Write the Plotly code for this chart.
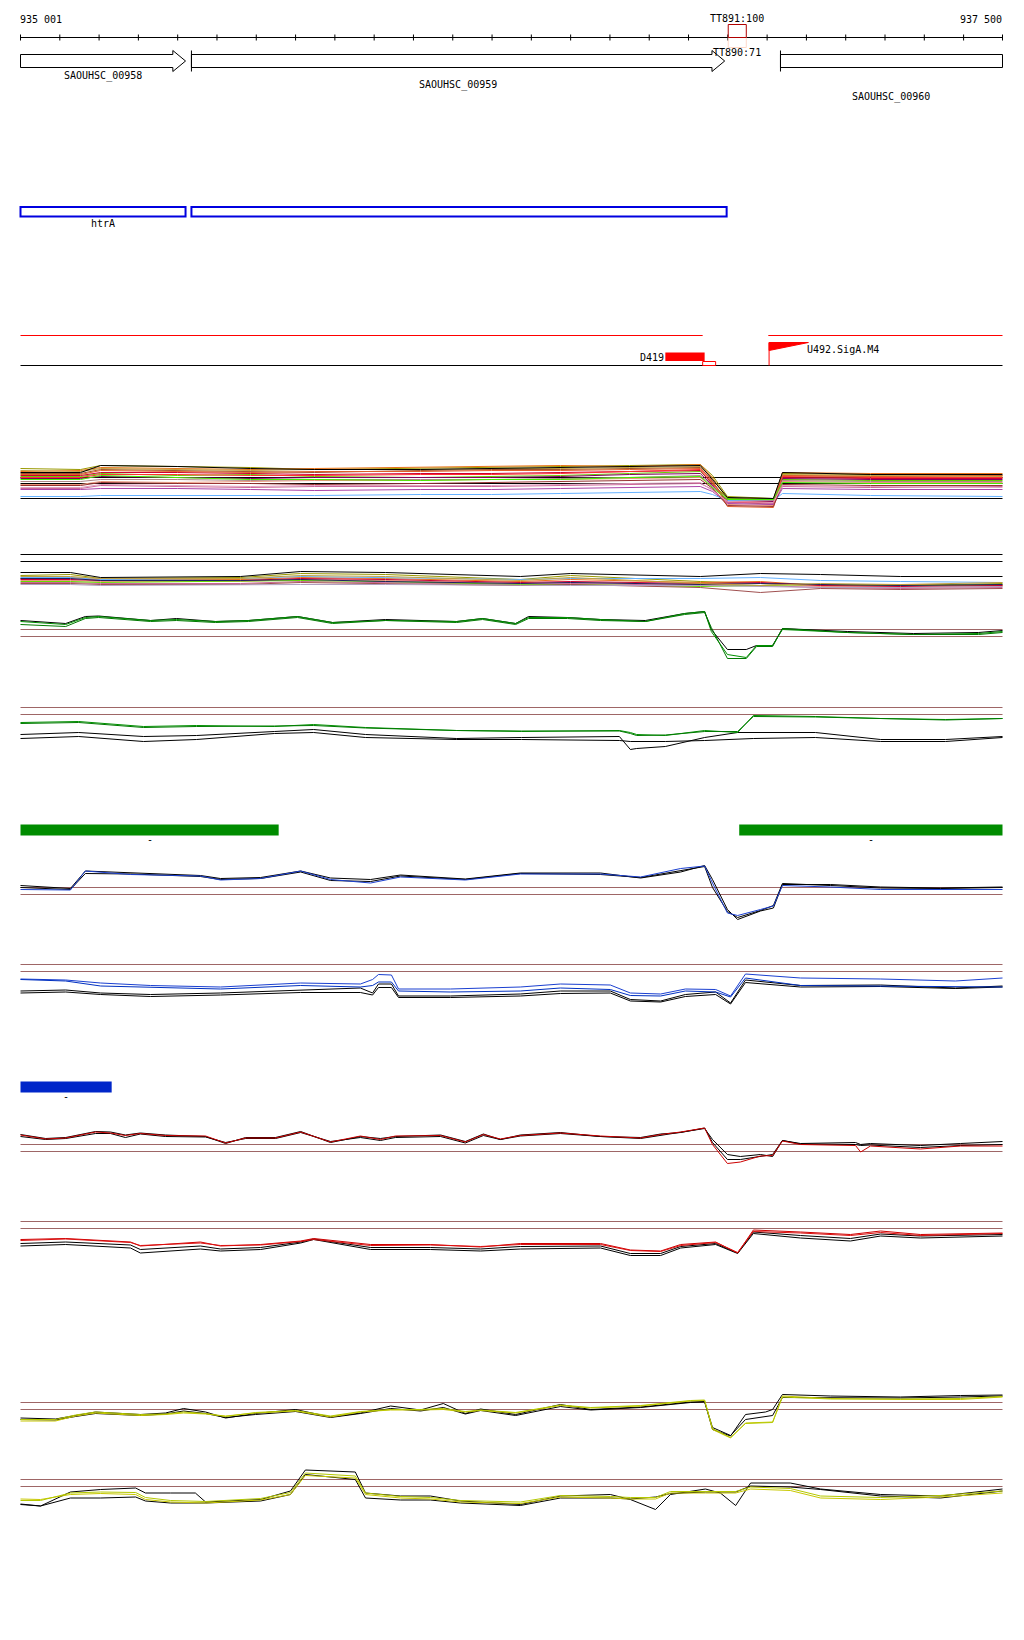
import plotly.graph_objects as go

# page is drawn inside the default 8px body margin, so the figure is sized to fit
OFF = 8
W, H = 1008, 1624
VIEW_START, VIEW_END = 935001, 937500
PX_LEFT, PX_RIGHT = 20, 1002          # page pixels of the view start / end
FONT = "DejaVu Sans Mono"
BROWN = "#9e6666"

# ---------------- annotation data (bp) ----------------
ruler_ticks = list(range(935001, 937500, 100)) + [937500]
ruler_labels = ["935 001", "937 500"]

gene_names = ["SAOUHSC_00958", "SAOUHSC_00959", "SAOUHSC_00960"]
gene_starts = [935001, 935436, 936935]
gene_ends = [935421, 936793, 937500]

operon_names = ["htrA", ""]
operon_starts = [935001, 935436]
operon_ends = [935421, 936798]

term_names = ["TT891:100", "TT890:71"]
term_start, term_end = 936802, 936848

prom_seg_starts = [935001, 936904]
prom_seg_ends = [936737, 937500]
d419_name, d419_start, d419_end = "D419", 936642, 936742
d419_box_start, d419_box_end = 936737, 936770
u492_name, u492_pos, u492_flag_end = "U492.SigA.M4", 936906, 937006

green_bar_starts = [935001, 936830]
green_bar_ends = [935658, 937500]
blue_bar_starts = [935001]
blue_bar_ends = [935233]

# ---------------- track A: many profiles ----------------
a_pos = [935001, 935154, 935205, 935400, 935586, 935749, 936019, 936200, 936375, 936551, 936731,
         936762, 936800, 936917, 936940, 937164, 937500]
a_olive = [51, 50, 54, 53, 52, 50, 51, 52, 53, 54, 55, 44, 23, 21, 46, 45, 44]
a_orange = [48, 49, 52, 51, 50, 51, 52, 53, 54, 53, 55, 42, 20, 18, 47, 46, 46]
a_sienna = [46, 46, 50, 49, 48, 47, 49, 50, 50, 51, 52, 38, 18, 15, 44, 43, 42]
a_green = [43, 43, 46, 44, 45, 43, 42, 43, 44, 46, 48, 36, 21, 20, 40, 39, 39]
a_crimson = [44, 44, 47, 47, 46, 45, 46, 46, 47, 48, 49, 35, 17, 17, 42, 41, 41]
a_plum = [41, 41, 43, 42, 41, 42, 42, 42, 43, 45, 46, 34, 19, 18, 41, 40, 40]
a_salmon = [35, 35, 38, 37, 38, 39, 39, 40, 40, 41, 42, 32, 15, 14, 38, 37, 37]
a_mauve = [31, 31, 34, 33, 32, 33, 33, 33, 34, 35, 36, 30, 17, 16, 33, 32, 33]
a_purple = [30, 30, 31, 31, 30, 29, 30, 30, 31, 32, 33, 28, 16, 15, 31, 30, 30]
a_skyblue = [23, 23, 24, 24, 24, 24, 25, 25, 26, 27, 28, 25, 19, 19, 26, 24, 23]
a_khaki = [49, 48, 51, 50, 49, 50, 50, 51, 51, 52, 53, 41, 22, 20, 45, 44, 43]
a_red = [42, 42, 45, 45, 44, 44, 45, 45, 46, 48, 50, 37, 18, 17, 43, 42, 42]
a_rosy = [38, 38, 40, 40, 39, 40, 40, 40, 41, 42, 44, 33, 20, 19, 39, 38, 38]
a_coral = [45, 45, 49, 48, 47, 48, 48, 49, 49, 50, 51, 39, 13, 12, 44, 43, 44]
a_lime = [40, 40, 44, 42, 40, 40, 39, 40, 40, 42, 43, 32, 20, 20, 37, 36, 36]
a_darkred = [34, 34, 37, 36, 36, 35, 36, 37, 38, 39, 40, 31, 14, 13, 35, 34, 34]
a_pink = [32, 32, 35, 34, 33, 34, 34, 34, 35, 36, 37, 29, 18, 17, 34, 33, 32]
a_black = [47, 47, 54, 53, 51, 50, 50, 51, 52, 53, 54, 40, 22, 21, 47, 45, 45]
a_thresholds = [42, 36, 21]

# ---------------- track B: many profiles ----------------
b_pos = [935001, 935128, 935205, 935561, 935714, 935930, 936273, 936401, 936731, 936884, 937037, 937240, 937500]
b_olive = [24, 25, 21, 22, 26, 25, 20, 24, 18, 16, 15, 14, 16]
b_orange = [21, 22, 20, 20, 22, 21, 18, 20, 17, 18, 14, 15, 14]
b_salmon = [19, 19, 18, 18, 20, 19, 16, 17, 15, 16, 13, 12, 13]
b_mauve = [17, 17, 16, 16, 18, 17, 15, 16, 14, 14, 12, 11, 12]
b_skyblue = [22, 22, 20, 21, 23, 22, 20, 21, 21, 22, 19, 18, 17]
b_lime = [18, 18, 17, 18, 19, 18, 15, 15, 13, 14, 15, 14, 15]
b_crimson = [20, 20, 19, 19, 21, 20, 17, 18, 16, 17, 14, 13, 14]
b_brown = [16, 16, 15, 15, 17, 16, 14, 15, 12, 7, 11, 10, 11]
b_navy = [21, 21, 19, 19, 20, 18, 16, 17, 15, 16, 15, 14, 15]
b_khaki = [23, 23, 21, 21, 24, 23, 19, 22, 16, 14, 16, 15, 17]
b_lilac = [15, 15, 14, 15, 15, 15, 14, 14, 14, 13, 12, 12, 13]
b_black = [27, 27, 22, 23, 28, 27, 23, 26, 23, 26, 25, 23, 23]
b_thresholds = [45, 38]

# ---------------- track C: green / black ----------------
c_pos = [935001, 935116, 935166, 935200, 935332, 935398, 935497, 935581, 935706, 935795, 935930, 936111,
         936177, 936261, 936294, 936393, 936477, 936591, 936691, 936742, 936759, 936800, 936848, 936874,
         936915, 936940, 937105, 937273, 937439, 937500]
c_green1 = [48, 45, 52, 53, 49, 50, 48, 49, 53, 47, 49, 48, 51, 46, 52, 52, 50, 48, 56, 58, 38, 15, 12, 24, 24, 40, 37, 35, 36, 38]
c_green2 = [45, 43, 51, 52, 48, 49, 47, 48, 52, 46, 49, 47, 50, 45, 51, 51, 49, 48, 55, 57, 42, 11, 11, 23, 23, 41, 37, 35, 35, 37]
c_black = [49, 46, 53, 53.5, 49, 51, 48, 49, 53, 47, 50, 48, 51, 46, 53, 52, 50, 49, 56, 58, 40, 20, 20, 24, 24, 41, 38, 36, 37, 39]
c_thresholds = [40, 33]

# ---------------- track D: green / black ----------------
d_pos = [935001, 935116, 935149, 935314, 935449, 935647, 935747, 935879, 936111, 936276, 936525, 936553,
         936569, 936642, 936742, 936826, 936866, 937024, 937190, 937355, 937500]
d_green1 = [37, 37.5, 38, 33, 34, 33, 35, 32, 29, 28, 29, 27, 25, 24, 29, 27, 44, 43, 41, 40, 41]
d_green2 = [36, 37, 37, 32, 33, 33.5, 34, 31.5, 29, 28.5, 28.5, 26, 24, 24.5, 28, 28, 43, 42.5, 41, 39.5, 41]
d_black1 = [25, 27, 27, 23, 24, 28, 30, 25, 21, 22, 23, 10, 11, 13, 22, 27, 27, 27, 20, 20, 23]
d_black2 = [21, 23, 23, 18, 20, 26, 27, 22, 20, 20, 19, 18, 18, 18, 19, 20, 21, 22, 18, 18, 22]
d_thresholds = [52, 45]

# ---------------- track F: blue / black ----------------
f_pos = [935001, 935128, 935166, 935281, 935459, 935510, 935612, 935714, 935790, 935892, 935968, 936133,
         936273, 936477, 936579, 936681, 936742, 936762, 936800, 936826, 936884, 936917, 936940, 937062,
         937190, 937342, 937500]
f_blue = [40, 39.5, 58.5, 55, 53.5, 49.5, 51, 58.5, 50, 46.5, 52.5, 49.5, 55.5, 55.5, 52.5, 61, 63.5, 46.5, 16.5, 14, 20, 23.5, 44, 42.5, 40, 40, 40]
f_black1 = [44, 41, 58.5, 56.5, 54, 51, 52, 58.5, 51.5, 50, 54.5, 50.5, 56.5, 56.5, 51.5, 57.5, 64, 50, 20, 10, 18.5, 21.5, 45, 45, 42.5, 41.5, 42.5]
f_black2 = [42, 40, 56, 55.5, 53, 50, 51, 57.5, 49, 48, 53.5, 50, 56, 55, 52, 58.5, 63, 42, 18, 12, 19, 24, 46, 44, 41.5, 41, 42]
f_thresholds = [42, 35]

# ---------------- track G: blue / black ----------------
g_pos = [935001, 935116, 935205, 935332, 935510, 935714, 935866, 935897, 935912, 935945, 935963, 936095,
         936273, 936375, 936502, 936553, 936630, 936693, 936770, 936808, 936846, 936986, 937190, 937380, 937500]
g_blue1 = [30.5, 29.5, 26.5, 24, 22.5, 26.5, 25.5, 30, 35, 34.5, 20.5, 20.5, 22.5, 25.5, 24.5, 16.5, 15.5, 20.5, 20, 13.5, 35.5, 31.5, 30.5, 28.5, 31.5]
g_blue2 = [30, 28.5, 23.5, 22.5, 20.5, 24, 22.5, 24, 27.5, 27.5, 18.5, 17.5, 18.5, 21.5, 20, 14, 13.5, 18.5, 17.5, 12.5, 31.5, 24, 23.5, 22.5, 22.5]
g_black1 = [18.5, 19.5, 16.5, 15, 16.5, 19.5, 21.5, 16.5, 25.5, 25.5, 13.5, 13.5, 15.5, 18.5, 18.5, 10, 8.5, 15, 17.5, 6.5, 29.5, 24, 24.5, 21.5, 23.5]
g_black2 = [16.5, 17.5, 15, 13, 14.5, 17, 17, 14.5, 22, 22, 12, 12, 13.5, 16, 16.5, 8.5, 7.5, 13, 15, 5.5, 27, 22.5, 23, 21, 22.5]
g_thresholds = [45, 38]

# ---------------- track I: red / black ----------------
i_pos = [935001, 935065, 935116, 935192, 935230, 935268, 935306, 935370, 935472, 935523, 935574, 935650,
         935714, 935790, 935866, 935917, 935955, 936070, 936133, 936179, 936222, 936273, 936375, 936477,
         936579, 936630, 936681, 936742, 936762, 936800, 936833, 936884, 936915, 936940, 936986, 937126,
         937139, 937164, 937291, 937393, 937500]
i_red = [39.5, 35.5, 36.5, 42.5, 41.5, 39, 41, 39, 38.5, 31.5, 36.5, 36.5, 42.5, 32.5, 38.5, 35, 38.5, 39, 32.5, 40, 35.5,
         39, 41.5, 38.5, 36.5, 40, 42.5, 46.5, 30, 11, 12.5, 18.5, 19, 33.5, 30, 29, 22.5, 28.5, 25.5, 28.5, 28.5]
i_black1 = [40, 36, 37, 43, 42.5, 39.5, 41.5, 39.5, 38, 31, 37, 37, 43, 32, 38, 36, 38, 39.5, 33, 40.5, 35,
            39.5, 42, 38, 37, 40.5, 42, 46.5, 32, 15, 15, 18, 20, 34, 31, 32, 30, 31, 29, 31, 33]
i_black2 = [38, 35, 36, 41, 41, 37, 40.5, 38, 37.5, 32, 36, 36, 42, 33, 37, 34, 37, 38, 31.5, 39, 35,
            38.5, 41, 38, 36, 39, 42, 46, 35, 20, 18, 20, 18, 34, 30.5, 30, 29, 29.5, 27, 29, 30]
i_thresholds = [30, 23]

# ---------------- track J: red / black ----------------
j_pos = [935001, 935116, 935281, 935306, 935459, 935510, 935612, 935714, 935747, 935892, 936044, 936172,
         936273, 936477, 936553, 936630, 936681, 936770, 936826, 936866, 936986, 937113, 937190, 937291, 937500]
j_red1 = [30, 31, 27.5, 23.5, 27.5, 23.5, 25, 28.5, 31, 25, 25, 22.5, 26, 26, 19.5, 18.5, 25, 27.5, 16.5, 39.5, 37.5, 35, 38.5, 35, 36.5]
j_red2 = [29, 30.5, 27, 24, 26.5, 24, 24.5, 28, 30, 24, 24.5, 23, 25, 25, 19, 18, 24, 27, 17, 38, 36.5, 34, 37, 34, 36]
j_black1 = [23.5, 25, 21.5, 16.5, 20.5, 18.5, 20, 26.5, 30, 20, 20, 18.5, 20.5, 21.5, 14, 14, 21.5, 25, 16, 36, 31.5, 28.5, 33.5, 31.5, 33.5]
j_black2 = [26, 27.5, 24.5, 20, 23.5, 20.5, 22, 27.5, 30.5, 22, 22, 20.5, 23, 23.5, 16, 16, 23, 26, 16.5, 37.5, 34, 31, 35.5, 33.5, 35]
j_thresholds = [48, 41]

# ---------------- track K: yellow / black ----------------
k_pos = [935001, 935090, 935141, 935192, 935306, 935370, 935416, 935472, 935523, 935599, 935701, 935790,
         935866, 935943, 936019, 936077, 936133, 936172, 936261, 936375, 936452, 936579, 936706, 936742,
         936762, 936808, 936846, 936897, 936915, 936940, 937062, 937240, 937393, 937500]
k_yellow1 = [28.5, 28.5, 33.5, 36.5, 34, 35, 36.5, 35.5, 33.5, 36.5, 38.5, 32.5, 37.5, 39.5, 39.5, 40, 37.5, 39, 36.5,
             44, 41.5, 43.5, 48.5, 49, 20, 11.5, 26.5, 27.5, 27.5, 53.5, 51, 50, 50, 52.5]
k_yellow2 = [30, 30, 34.5, 37.5, 35, 35.5, 37.5, 36, 33, 37, 39, 33.5, 38, 40, 40, 41, 38, 39.5, 37,
             44.5, 42, 44, 49, 49.5, 21, 12, 26, 27, 27, 52.5, 50.5, 50.5, 51, 53]
k_black1 = [31.5, 30.5, 34, 37.5, 35, 36.5, 41, 37.5, 31.5, 36, 40, 32.5, 36.5, 43.5, 39.5, 46, 36, 40.5, 35,
            45, 40, 42.5, 47.5, 48, 20, 13.5, 35, 37.5, 40, 55, 53.5, 52.5, 54, 54.5]
k_black2 = [30, 29.5, 33, 36, 34, 35.5, 38.5, 36, 32, 35, 38, 32, 36, 41, 38.5, 42, 35.5, 39, 34,
            43, 39.5, 42, 47, 47.5, 22, 14, 30, 33, 34, 52, 52, 51.5, 52.5, 53.5]
k_thresholds = [47, 40]

# ---------------- track L: yellow / black ----------------
l_pos = [935001, 935052, 935128, 935205, 935294, 935319, 935383, 935446, 935472, 935612, 935688, 935726,
         935853, 935879, 935968, 936044, 936121, 936273, 936375, 936502, 936553, 936617, 936655, 936744,
         936782, 936821, 936859, 936960, 937037, 937190, 937342, 937500]
l_yellow1 = [25.5, 25, 30, 31, 30, 25, 22.5, 21.5, 21.5, 24.5, 30, 49, 46.5, 30, 26.5, 25.5, 22.5, 21, 27.5, 26.5,
             25.5, 25.5, 31.5, 31.5, 31.5, 31.5, 35.5, 34, 26.5, 25, 27.5, 31.5]
l_yellow2 = [24, 24, 31.5, 32.5, 32, 27, 24, 23, 23, 26, 32, 51.5, 48.5, 31.5, 28, 27, 24, 22.5, 29, 28,
             27, 27, 33, 33, 33, 33, 37.5, 36, 28.5, 27, 29, 33.5]
l_black1 = [20.5, 18.5, 32.5, 35, 36.5, 31.5, 31.5, 31.5, 22.5, 25, 33.5, 54.5, 52.5, 31.5, 28.5, 28.5, 23.5, 20, 28.5, 30,
            25, 15, 30, 35.5, 31.5, 19, 41.5, 41.5, 35.5, 30, 28.5, 35.5]
l_black2 = [20, 18.5, 26.5, 26.5, 27.5, 23.5, 21.5, 21, 21.5, 23.5, 30, 50, 45, 26.5, 24.5, 24.5, 21.5, 19, 26.5, 26.5,
            25.5, 27.5, 31, 32.5, 32.5, 32.5, 38.5, 37.5, 35, 28.5, 26.5, 33.5]
l_thresholds = [45, 38]

# ---------------- figure ----------------
# x: bp -> figure pixels (half-pixel shift keeps 1px lines crisp)
k = (PX_RIGHT - PX_LEFT) / (VIEW_END - VIEW_START)
x_min = VIEW_START - (PX_LEFT - OFF + 0.5) / k
x_max = x_min + W / k
# y layout axis works in page pixels
Y_TOP = OFF + 0.5
Y_BOT = Y_TOP + H

fig = go.Figure()
shapes = []
annotations = []


def label(text, x, y, anchor="center", xshift=0):
    annotations.append(dict(x=x, y=y, xref="x", yref="y", text=text, showarrow=False,
                            xanchor=anchor, yanchor="middle", xshift=xshift,
                            font=dict(family=FONT, size=10, color="black")))


def line(x0, y0, x1, y1, color="black", width=1, yref="y"):
    shapes.append(dict(type="line", xref="x", yref=yref, x0=x0, y0=y0, x1=x1, y1=y1,
                       line=dict(color=color, width=width)))


def rect(x0, y0, x1, y1, line_color=None, fill=None, width=1):
    shapes.append(dict(type="rect", xref="x", yref="y", x0=x0, y0=y0, x1=x1, y1=y1,
                       line=dict(color=line_color or "rgba(0,0,0,0)", width=width if line_color else 0),
                       fillcolor=fill or "rgba(0,0,0,0)"))


# ruler
line(VIEW_START, 38, VIEW_END, 38)
for t in ruler_ticks:
    line(t, 35, t, 41)
label(ruler_labels[0], VIEW_START, 20, "left", -3)
label(ruler_labels[1], VIEW_END, 20, "right", 1)

# terminators
rect(term_start, 38, term_end, 48, line_color="#ffd8c8")
rect(term_start, 25, term_end, 38, line_color="#b00000")
tc = (term_start + term_end) / 2
label(term_names[0], tc, 19)

# genes
gene_label_y = [76, 85, 97]
head = 12.7 / k
for name, s, e, ly in zip(gene_names, gene_starts, gene_ends, gene_label_y):
    if e < VIEW_END:
        b = e - head
        path = f"M {s},55 L {b},55 L {b},51 L {e},61.5 L {b},72 L {b},68 L {s},68 Z"
    else:
        path = f"M {s},55 L {e},55 L {e},68 L {s},68 Z"
    shapes.append(dict(type="path", xref="x", yref="y", path=path,
                       line=dict(color="black", width=1), fillcolor="white"))
    if s > VIEW_START:
        line(s, 51, s, 72)
    label(name, (s + min(e, VIEW_END)) / 2, ly)
label(term_names[1], tc, 53)

# operons
for name, s, e in zip(operon_names, operon_starts, operon_ends):
    rect(s, 207.5, e, 217, line_color="#0000e0", width=2)
    if name:
        label(name, (s + e) / 2, 224)

# promoters
for s, e in zip(prom_seg_starts, prom_seg_ends):
    line(s, 336, e, 336, color="#ff0000")
line(VIEW_START, 366, VIEW_END, 366)
rect(d419_start, 353, d419_end, 361.5, fill="#ff0000")
rect(d419_box_start, 362, d419_box_end, 366, line_color="#ff0000")
label(d419_name, d419_start, 358, "right", 1)
line(u492_pos, 343, u492_pos, 366, color="#ff0000")
shapes.append(dict(type="path", xref="x", yref="y",
                   path=f"M {u492_pos},343 L {u492_flag_end},343 L {u492_pos},351 Z",
                   line=dict(color="#ff0000", width=1), fillcolor="#ff0000"))
label(u492_name, u492_flag_end, 350, "left", -3)

# feature bars
for s, e in zip(green_bar_starts, green_bar_ends):
    rect(s, 825, e, 836, fill="#008c00")
    label("-", (s + e) / 2, 840)
for s, e in zip(blue_bar_starts, blue_bar_ends):
    rect(s, 1082, e, 1093, fill="#0026c9")
    label("-", (s + e) / 2, 1097)

# profile tracks: (axis, top px, bottom px, positions, series, thresholds, threshold colour)
tracks = [
    (2, 440, 520, a_pos, [("#999900", a_olive), ("#e8731a", a_orange), ("#a0522d", a_sienna),
                          ("#66cc00", a_green), ("#cc0033", a_crimson), ("#800060", a_plum),
                          ("#e9967a", a_salmon), ("#cc6699", a_mauve), ("#aa44aa", a_purple),
                          ("#66b2ff", a_skyblue), ("#c0a040", a_khaki), ("#ff3030", a_red),
                          ("#b08888", a_rosy), ("#e0602a", a_coral), ("#44ee00", a_lime),
                          ("#993333", a_darkred), ("#e0a0c0", a_pink), ("#000000", a_black)],
     a_thresholds, "black"),
    (3, 545, 600, b_pos, [("#999900", b_olive), ("#e8731a", b_orange), ("#e9967a", b_salmon),
                          ("#cc6699", b_mauve), ("#66b2ff", b_skyblue), ("#66dd00", b_lime),
                          ("#cc0033", b_crimson), ("#a05050", b_brown), ("#202060", b_navy),
                          ("#c0a040", b_khaki), ("#b0a0c0", b_lilac), ("#000000", b_black)],
     b_thresholds, "black"),
    (4, 600, 670, c_pos, [("#000000", c_black), ("#009000", c_green1), ("#007a00", c_green2)],
     c_thresholds, BROWN),
    (5, 700, 760, d_pos, [("#000000", d_black1), ("#000000", d_black2), ("#009000", d_green1),
                          ("#007a00", d_green2)], d_thresholds, BROWN),
    (6, 860, 930, f_pos, [("#000000", f_black1), ("#000000", f_black2), ("#1a3fd0", f_blue)],
     f_thresholds, BROWN),
    (7, 950, 1010, g_pos, [("#000000", g_black1), ("#000000", g_black2), ("#1a3fd0", g_blue1),
                           ("#0030c0", g_blue2)], g_thresholds, BROWN),
    (8, 1110, 1175, i_pos, [("#000000", i_black1), ("#000000", i_black2), ("#cc0000", i_red)],
     i_thresholds, BROWN),
    (9, 1215, 1270, j_pos, [("#000000", j_black1), ("#000000", j_black2), ("#cc0000", j_red1),
                            ("#dd1010", j_red2)], j_thresholds, BROWN),
    (10, 1385, 1450, k_pos, [("#000000", k_black1), ("#000000", k_black2), ("#c8c800", k_yellow1),
                             ("#b4c800", k_yellow2)], k_thresholds, BROWN),
    (11, 1460, 1525, l_pos, [("#000000", l_black1), ("#000000", l_black2), ("#c8c800", l_yellow1),
                             ("#b4c800", l_yellow2)], l_thresholds, BROWN),
]

layout_axes = {}
for idx, top, bottom, pos, series, thr, thr_color in tracks:
    name = f"y{idx}"
    d0 = (Y_BOT - bottom) / H
    d1 = (Y_BOT - top) / H
    layout_axes[f"yaxis{idx}"] = dict(domain=[d0, d1], range=[0, bottom - top],
                                      visible=False, fixedrange=True)
    for value in thr:
        line(VIEW_START, value, VIEW_END, value, color=thr_color, yref=name)
    for color, values in series:
        fig.add_trace(go.Scatter(x=pos, y=values, mode="lines", yaxis=name, xaxis="x",
                                 line=dict(color=color, width=1), hoverinfo="skip", showlegend=False))

# invisible trace to hold the layout-coordinate axis
fig.add_trace(go.Scatter(x=[VIEW_START], y=[0], mode="markers", marker=dict(opacity=0),
                         xaxis="x", yaxis="y", showlegend=False, hoverinfo="skip"))

for s in shapes:
    if s.get("yref", "y") != "y":
        s["layer"] = "below"

fig.update_layout(
    width=W, height=H, margin=dict(l=0, r=0, t=0, b=0),
    paper_bgcolor="white", plot_bgcolor="rgba(0,0,0,0)",
    xaxis=dict(range=[x_min, x_max], visible=False, fixedrange=True),
    yaxis=dict(range=[Y_BOT, Y_TOP], domain=[0, 1], visible=False, fixedrange=True),
    shapes=shapes, annotations=annotations, showlegend=False,
    **layout_axes,
)

fig.write_html("out.html")
